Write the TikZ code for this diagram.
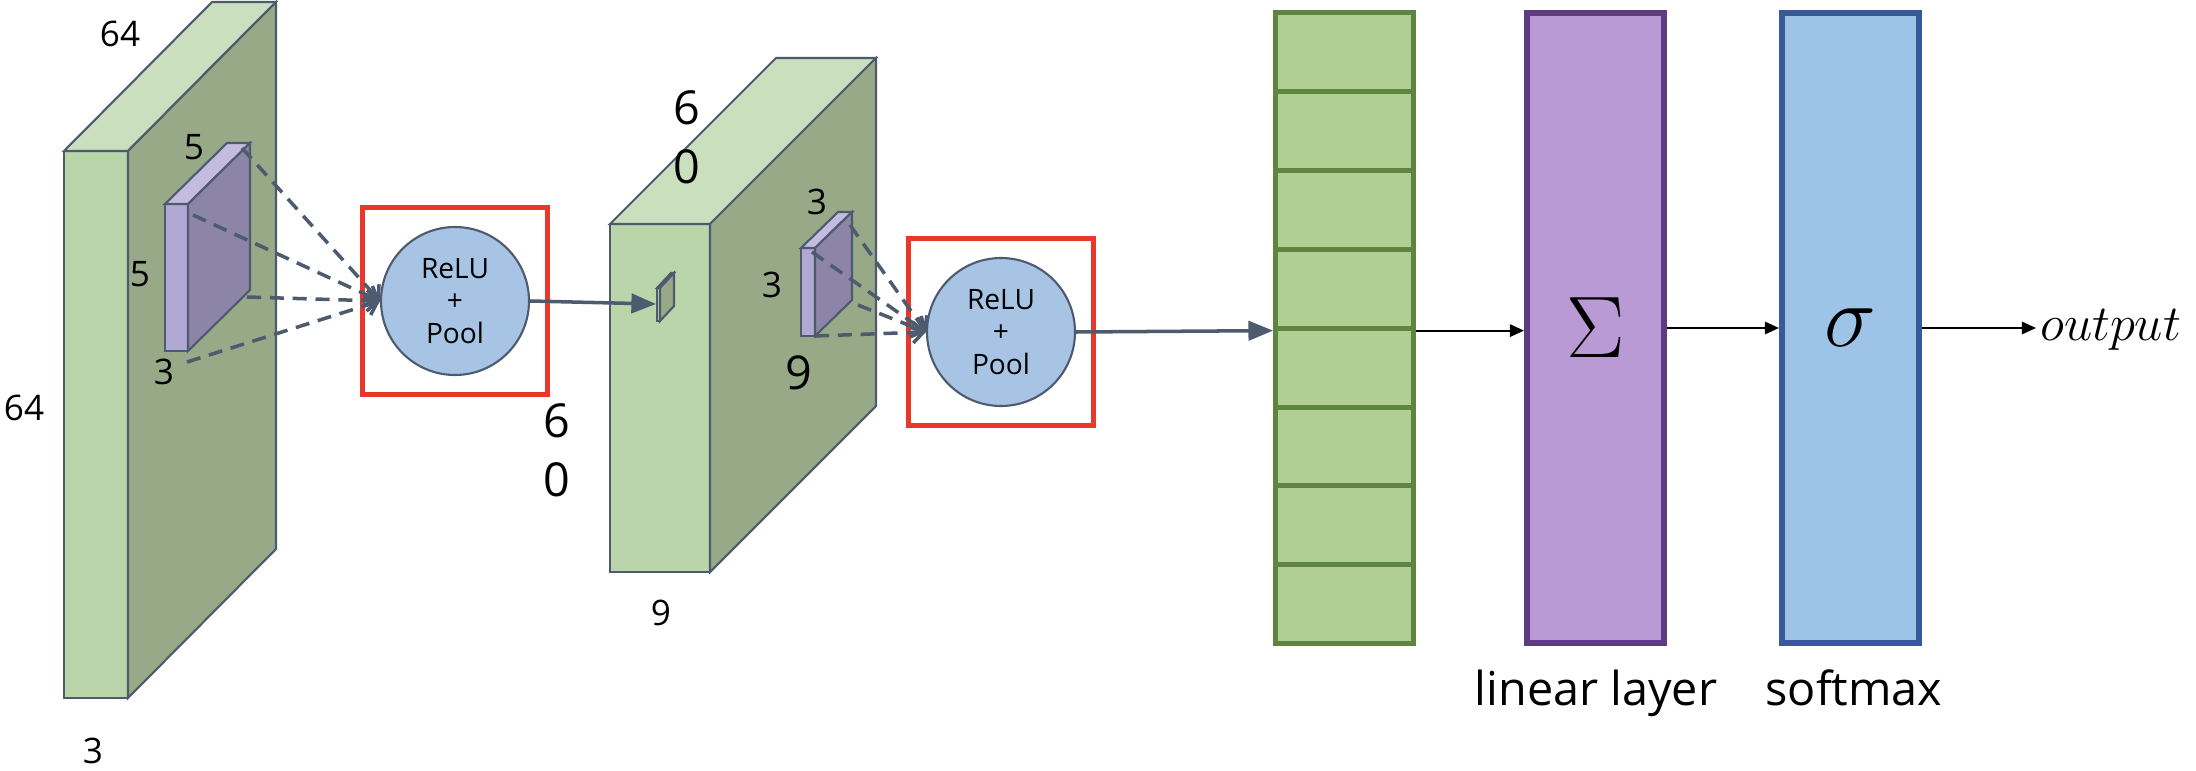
\documentclass[tikz,border=0pt]{standalone}
\usepackage[no-math]{fontspec}
\setmainfont{Open Sans}
\usetikzlibrary{arrows.meta,positioning}
\definecolor{cEdge}{HTML}{4E5A6E}
\definecolor{cFront}{HTML}{B9D5A9}
\definecolor{cTop}{HTML}{C9DFBE}
\definecolor{cSide}{HTML}{97A987}
\definecolor{cKFront}{HTML}{B1A8D3}
\definecolor{cKTop}{HTML}{C4BCE0}
\definecolor{cKSide}{HTML}{8D85A7}
\definecolor{cRelu}{HTML}{A7C4E5}
\definecolor{cRed}{HTML}{E8382B}
\definecolor{cVec}{HTML}{B0CF94}
\definecolor{cVecEdge}{HTML}{5E8540}
\definecolor{cLin}{HTML}{B99AD4}
\definecolor{cLinEdge}{HTML}{5C3B82}
\definecolor{cSoft}{HTML}{9DC3E6}
\definecolor{cSoftEdge}{HTML}{37589A}

\begin{document}
\begin{tikzpicture}[
    face/.style={draw=cEdge, line width=0.6pt, fill=#1},
    dim/.style={font=\fontsize{10}{12}\selectfont, inner sep=0pt},
    bigdim/.style={font=\fontsize{13.3}{16.8}\selectfont, align=center, inner sep=0pt},
    relu/.style={circle, draw=cEdge, line width=0.6pt, fill=cRelu, minimum size=1.48cm, inner sep=0pt, align=center, font=\fontsize{8}{9.2}\selectfont},
    redbox/.style={rectangle, draw=cRed, line width=1.3pt, minimum width=1.85cm, minimum height=1.87cm, inner sep=0pt},
    feed/.style={draw=cEdge, line width=1pt, dash pattern=on 4pt off 2.5pt, -{Straight Barb[length=3pt]}},
    sarr/.style={-{Triangle[length=7pt,width=5.5pt]}, line width=1pt, cEdge},
    karr/.style={-{Triangle[length=4pt,width=3.5pt]}, line width=0.6pt, black},
    cell/.style={rectangle, draw=cVecEdge, fill=cVec, line width=1.4pt, minimum width=1.38cm, minimum height=0.789cm, inner sep=0pt},
    layer/.style={rectangle, line width=1.7pt, minimum width=1.37cm, minimum height=6.30cm, inner sep=0pt},
    lbl/.style={font=\fontsize{13.3}{16}\selectfont, anchor=base, inner sep=0pt},
]
\useasboundingbox (0,0) rectangle (21.96,7.70);

% Input volume
\draw[face=cFront] (0.64,0.72) rectangle (1.28,6.19);
\draw[face=cTop] (0.64,6.19) -- (1.28,6.19) -- (2.76,7.68) -- (2.12,7.68) -- cycle;
\draw[face=cSide] (1.28,0.72) -- (2.76,2.21) -- (2.76,7.68) -- (1.28,6.19) -- cycle;
\node[dim] (w1) at (1.20,7.36) {64};
\node[dim] (h1) at (0.24,3.62) {64};
\node[dim] (d1) at (0.93,0.19) {3};

% Kernel 1
\draw[face=cKFront] (1.65,4.19) rectangle (1.88,5.66);
\draw[face=cKTop] (1.65,5.66) -- (1.88,5.66) -- (2.50,6.27) -- (2.27,6.27) -- cycle;
\draw[face=cKSide] (1.88,4.19) -- (2.50,4.80) -- (2.50,6.27) -- (1.88,5.66) -- cycle;
\node[dim] (kw1) at (1.94,6.23) {5};
\node[dim] (kh1) at (1.40,4.96) {5};
\node[dim] (kd1) at (1.64,3.98) {3};
\coordinate (k1a) at (2.42,6.22);
\coordinate (k1b) at (1.93,5.55);
\coordinate (k1c) at (2.47,4.73);
\coordinate (k1d) at (1.87,4.08);

% ReLU + Pool 1
\node[relu] (relu1) at (4.55,4.69) {ReLU\\+\\Pool};
\node[redbox] (box1) at (relu1) {};
\foreach \k in {k1a,k1b,k1c,k1d}
    \draw[feed] (\k) -- (relu1.west);
\node[bigdim] (n1) at (5.57,3.20) {6\\0};

% Second volume
\draw[face=cFront] (6.10,1.98) rectangle (7.10,5.46);
\draw[face=cTop] (6.10,5.46) -- (7.10,5.46) -- (8.76,7.12) -- (7.76,7.12) -- cycle;
\draw[face=cSide] (7.10,1.98) -- (8.76,3.64) -- (8.76,7.12) -- (7.10,5.46) -- cycle;
\node[bigdim] (w2) at (6.87,6.33) {6\\0};
\node[dim] (d2) at (6.61,1.57) {9};

% pooled cell
\draw[face=cFront] (6.57,4.49) rectangle (6.60,4.82);
\draw[face=cFront] (6.57,4.82) -- (6.60,4.82) -- (6.74,4.97) -- (6.71,4.97) -- cycle;
\draw[face=cSide] (6.60,4.49) -- (6.74,4.64) -- (6.74,4.97) -- (6.60,4.82) -- cycle;
\coordinate (px) at (6.56,4.66);
\draw[sarr] (relu1.east) -- (px);

% Kernel 2
\draw[face=cKFront] (8.01,4.34) rectangle (8.15,5.22);
\draw[face=cKTop] (8.01,5.22) -- (8.15,5.22) -- (8.52,5.58) -- (8.38,5.58) -- cycle;
\draw[face=cKSide] (8.15,4.34) -- (8.52,4.70) -- (8.52,5.58) -- (8.15,5.22) -- cycle;
\node[dim] (kw2) at (8.17,5.68) {3};
\node[dim] (kh2) at (7.72,4.85) {3};
\node[bigdim] (kd2) at (7.99,3.97) {9};
\coordinate (k2a) at (8.50,5.45);
\coordinate (k2b) at (8.12,5.18);
\coordinate (k2c) at (8.58,4.65);
\coordinate (k2d) at (8.15,4.34);

% ReLU + Pool 2
\node[relu] (relu2) at (10.01,4.38) {ReLU\\+\\Pool};
\node[redbox] (box2) at (relu2) {};
\foreach \k in {k2a,k2b,k2c,k2d}
    \draw[feed] (\k) -- (relu2.west);

% Flattened vector
\foreach \i in {1,...,8}
    \node[cell] (c\i) at (13.445,{7.18-(\i-1)*0.789}) {};
\draw[sarr] (relu2.east) -- (c4.south west);

% Linear layer and softmax
\node[layer, draw=cLinEdge, fill=cLin, font=\fontsize{25}{25}\selectfont] (lin) at (15.955,4.42) {$\Sigma$};
\node[layer, draw=cSoftEdge, fill=cSoft, font=\fontsize{26}{26}\selectfont] (soft) at (18.505,4.42) {$\sigma$};
\node[lbl] (linlbl) at (15.96,0.65) {linear layer};
\node[lbl] (softlbl) at (18.54,0.65) {softmax};
\node[anchor=west, inner sep=1pt, font=\fontsize{15.5}{15.5}\selectfont] (out) at (20.36,4.40) {$output$};

\draw[karr] (c4.south east) -- (c4.south east -| lin.west);
\draw[karr] (lin.east) -- (soft.west);
\draw[karr] (soft.east) -- (soft.east -| out.west);

\end{tikzpicture}
\end{document}
